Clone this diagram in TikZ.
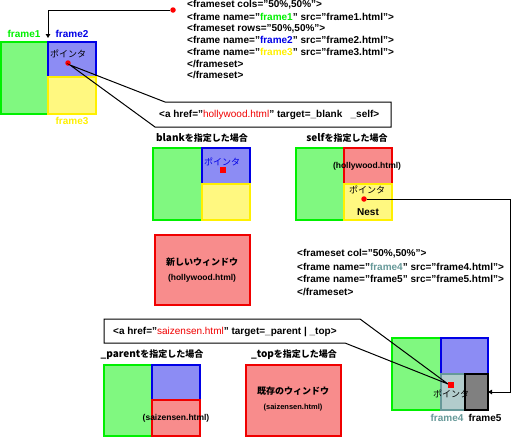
\documentclass[tikz,border=0pt]{standalone}
\usepackage{fontspec}
\setmainfont{Liberation Sans}
\newfontfamily\jpfam{Noto Sans CJK JP}
\usetikzlibrary{arrows.meta}
\definecolor{gr}{RGB}{0,240,0}
\definecolor{bl}{RGB}{0,0,230}
\definecolor{ye}{RGB}{255,240,0}
\definecolor{rd}{RGB}{240,0,0}
\definecolor{tl}{RGB}{102,153,153}
\newcommand\codef{\fontsize{10}{12}\selectfont\bfseries}
\newcommand\jpf{\fontsize{9}{10}\selectfont\jpfam}
\begin{document}
\begin{tikzpicture}[x=1pt,y=-1pt,
  cell/.style={draw, line width=1.5pt, anchor=north west, inner sep=0, outer sep=0},
  code/.style={anchor=west, inner sep=0, font=\codef},
  lbl/.style={inner sep=0, font=\codef},
  jlab/.style={inner sep=0, font=\jpf},
  small/.style={inner sep=0, font=\fontsize{8.5}{10}\selectfont\bfseries},
  dotc/.style={circle, fill=red, inner sep=0, minimum size=5.5pt},
  dots/.style={rectangle, fill=red, inner sep=0, minimum size=6pt},
  wire/.style={line width=1pt},
  arr/.style={-{Triangle[length=4pt,width=4.5pt]}, line width=1pt}]
\useasboundingbox (0,0) rectangle (512,437);

% ---------- top-left frameset ----------
\node[cell, draw=gr, fill=gr!50!white, minimum width=47, minimum height=72] (f1) at (1,42) {};
\node[cell, draw=bl, fill=bl!45!white, minimum width=48, minimum height=35] (f2) at (48,42) {};
\node[cell, draw=ye, fill=ye!50!white, minimum width=48, minimum height=37] (f3) at (48,77) {};
\node[lbl, text=gr] (l1) at (24,34) {frame1};
\node[lbl, text=bl] (l2) at (72,34) {frame2};
\node[lbl, text=ye] (l3) at (72,121) {frame3};
\node[jlab] (pt1) at (68,54) {ポインタ};
\node[dotc] (p1) at (68,63) {};
\node[dotc] (src) at (173,10) {};
\coordinate (a1) at (48,38);
\draw[arr] (src) -| (a1);

% ---------- code block 1 ----------
\node[code] (k1) at (187,5) {<frameset cols="50\%,50\%">};
\node[code] (k2) at (187,16.7) {<frame name="\textcolor{gr}{frame1}" src="frame1.html">};
\node[code] (k3) at (187,28.4) {<frameset rows="50\%,50\%">};
\node[code] (k4) at (187,40.1) {<frame name="\textcolor{bl}{frame2}" src="frame2.html">};
\node[code] (k5) at (187,51.8) {<frame name="\textcolor{ye}{frame3}" src="frame3.html">};
\node[code] (k6) at (187,63.5) {</frameset>};
\node[code] (k7) at (187,75.2) {</frameset>};

% ---------- callout 1 ----------
\coordinate (t1) at (70,65);
\coordinate (c1a) at (165,102);
\coordinate (c1b) at (391,102);
\coordinate (c1c) at (391,127);
\coordinate (c1d) at (155,127);
\draw[wire] (t1) -- (c1a) -- (c1b) -- (c1c) -- (c1d) -- cycle;
\node[code] (ta) at (159,115) {<a href="\textcolor{rd}{\mdseries hollywood.html}" target=\_blank \ \ \_self>};

% ---------- blank panel ----------
\node[jlab] (tb) at (202,138) {\codef blank\jpf を指定した場合};
\node[cell, draw=gr, fill=gr!50!white, minimum width=49, minimum height=72] (b1) at (153,148) {};
\node[cell, draw=bl, fill=bl!45!white, minimum width=48, minimum height=36] (b2) at (202,148) {};
\node[cell, draw=ye, fill=ye!50!white, minimum width=48, minimum height=36] (b3) at (202,184) {};
\node[jlab, text=bl] (pt2) at (222,162) {ポインタ};
\node[dots] (p2) at (223,170) {};

% ---------- self panel ----------
\node[jlab] (ts) at (347,138) {\codef self\jpf を指定した場合};
\node[cell, draw=gr, fill=gr!50!white, minimum width=48, minimum height=72] (s1) at (296,148) {};
\node[cell, draw=rd, fill=rd!45!white, minimum width=48, minimum height=36] (s2) at (344,148) {};
\node[cell, draw=ye, fill=ye!50!white, minimum width=48, minimum height=36] (s3) at (344,184) {};
\node[small] (hs) at (367,166) {(hollywood.html)};
\node[jlab] (pt3) at (367,190) {ポインタ};
\node[dotc] (p3) at (364,199) {};
\node[lbl] (ns) at (368,212) {Nest};

% ---------- new window ----------
\node[cell, draw=rd, fill=rd!45!white, minimum width=95, minimum height=70] (nw) at (155,235) {};
\node[jlab, font=\jpf\bfseries] (nwt) at (202,262) {新しいウィンドウ};
\node[small] (nwh) at (202,278) {(hollywood.html)};

% ---------- code block 2 ----------
\node[code] (m1) at (297,254) {<frameset col="50\%,50\%">};
\node[code] (m2) at (297,266.5) {<frame name="\textcolor{tl}{frame4}" src="frame4.html">};
\node[code] (m3) at (297,279) {<frame name="frame5" src="frame5.html">};
\node[code] (m4) at (297,291.5) {</frameset>};

% ---------- callout 2 ----------
\node[code] (tc) at (113,332) {<a href="\textcolor{rd}{\mdseries saizensen.html}" target=\_parent | \_top>};

% ---------- _parent panel ----------
\node[jlab] (tp) at (152,355) {\codef \_parent\jpf を指定した場合};
\node[cell, draw=gr, fill=gr!50!white, minimum width=48, minimum height=71] (q1) at (104,365) {};
\node[cell, draw=bl, fill=bl!45!white, minimum width=48, minimum height=35] (q2) at (152,365) {};
\node[cell, draw=rd, fill=rd!45!white, minimum width=48, minimum height=36] (q3) at (152,400) {};
\node[small] (qs) at (176,418) {(saizensen.html)};

% ---------- _top panel ----------
\node[jlab] (tt) at (294,355) {\codef \_top\jpf を指定した場合};
\node[cell, draw=rd, fill=rd!45!white, minimum width=95, minimum height=71] (tw) at (246,365) {};
\node[jlab, font=\jpf\bfseries] (twt) at (293,391) {既存のウィンドウ};
\node[small, font=\fontsize{7.5}{9}\selectfont\bfseries] (tws) at (293,408) {(saizensen.html)};

% ---------- bottom-right frameset ----------
\node[cell, draw=gr, fill=gr!50!white, minimum width=49, minimum height=72] (r1) at (392,338) {};
\node[cell, draw=bl, fill=bl!45!white, minimum width=47, minimum height=36] (r2) at (441,338) {};
\node[cell, draw=tl, fill=tl!50!white, minimum width=24, minimum height=36] (f4) at (441,374) {};
\node[cell, draw=black, fill=black!50!white, minimum width=23, minimum height=36] (f5) at (465,374) {};
\node[jlab] (pt5) at (451,394) {ポインタ};
\node[lbl, text=tl] (l4) at (447,418) {frame4};
\node[lbl] (l5) at (485,418) {frame5};

\coordinate (t2) at (448,384);
\coordinate (c2a) at (360,319);
\coordinate (c2b) at (104,319);
\coordinate (c2c) at (104,343);
\coordinate (c2d) at (345,343);
\draw[wire] (t2) -- (c2a) -- (c2b) -- (c2c) -- (c2d) -- cycle;
\node[dots] (p5) at (451,385) {};

% ---------- self -> frame5 connector ----------
\coordinate (kk) at (510.5,199);
\draw[arr] (p3) -- (kk) |- (f5.east);
\end{tikzpicture}
\end{document}
